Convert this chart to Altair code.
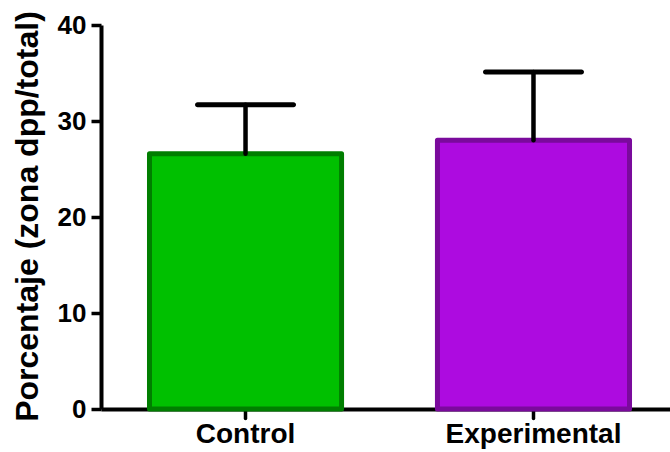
import altair as alt
import pandas as pd

# Group means and upper error (mean + SD)
groups = ["Control", "Experimental"]
means = [26.6, 28.0]
uppers = [31.7, 35.1]
fills = ["#00C000", "#AD0BE0"]
strokes = ["#007E00", "#7A0A9C"]
y_ticks = [0, 10, 20, 30, 40]

df = pd.DataFrame({"grupo": groups, "media": means, "sup": uppers})

FONT = "Liberation Sans"

x_enc = alt.X(
    "grupo:N",
    sort=groups,
    scale=alt.Scale(paddingInner=0.333, paddingOuter=0.1545, align=0.545),
    axis=alt.Axis(
        title=None, labelAngle=0, labelFont=FONT, labelFontSize=28,
        labelFontWeight="bold", labelColor="black", labelPadding=2,
        domainColor="black", domainWidth=4, tickColor="black",
        tickWidth=3.5, tickSize=9, tickCap="round",
    ),
)

bars = alt.Chart(df).mark_bar(strokeWidth=5, strokeJoin="round").encode(
    x=x_enc,
    y=alt.Y(
        "media:Q",
        scale=alt.Scale(domain=[0, 40], nice=False, zero=True),
        axis=alt.Axis(
            values=y_ticks, title="Porcentaje (zona dpp/total)", grid=False,
            labelFont=FONT, labelFontSize=26, labelFontWeight="bold",
            labelColor="black", labelPadding=5,
            domainColor="black", domainWidth=4, tickColor="black",
            tickWidth=3.5, tickSize=10,
            titleFont=FONT, titleFontSize=32, titleFontWeight="bold",
            titleColor="black", titleAngle=270, titleBaseline="alphabetic",
            titleAlign="center", titleX=-64, titleY=191,
        ),
    ),
    fill=alt.Color("grupo:N", scale=alt.Scale(domain=groups, range=fills), legend=None),
    stroke=alt.Stroke("grupo:N", scale=alt.Scale(domain=groups, range=strokes), legend=None),
)

err_line = alt.Chart(df).mark_rule(color="black", strokeWidth=4.5, strokeCap="round").encode(
    x=alt.X("grupo:N", sort=groups),
    y="media:Q",
    y2="sup:Q",
)

err_cap = alt.Chart(df).mark_tick(
    color="black", opacity=1, thickness=5, size=101, cornerRadius=2.5
).encode(
    x=alt.X("grupo:N", sort=groups),
    y="sup:Q",
)

chart = (
    alt.layer(bars, err_line, err_cap)
    .properties(
        width=569, height=384,
        autosize=alt.AutoSizeParams(type="none"),
        padding={"left": 101, "top": 25, "right": 0, "bottom": 43},
    )
    .configure_view(stroke=None)
)

chart.save("out.html", embed_options={"renderer": "svg", "actions": False})
